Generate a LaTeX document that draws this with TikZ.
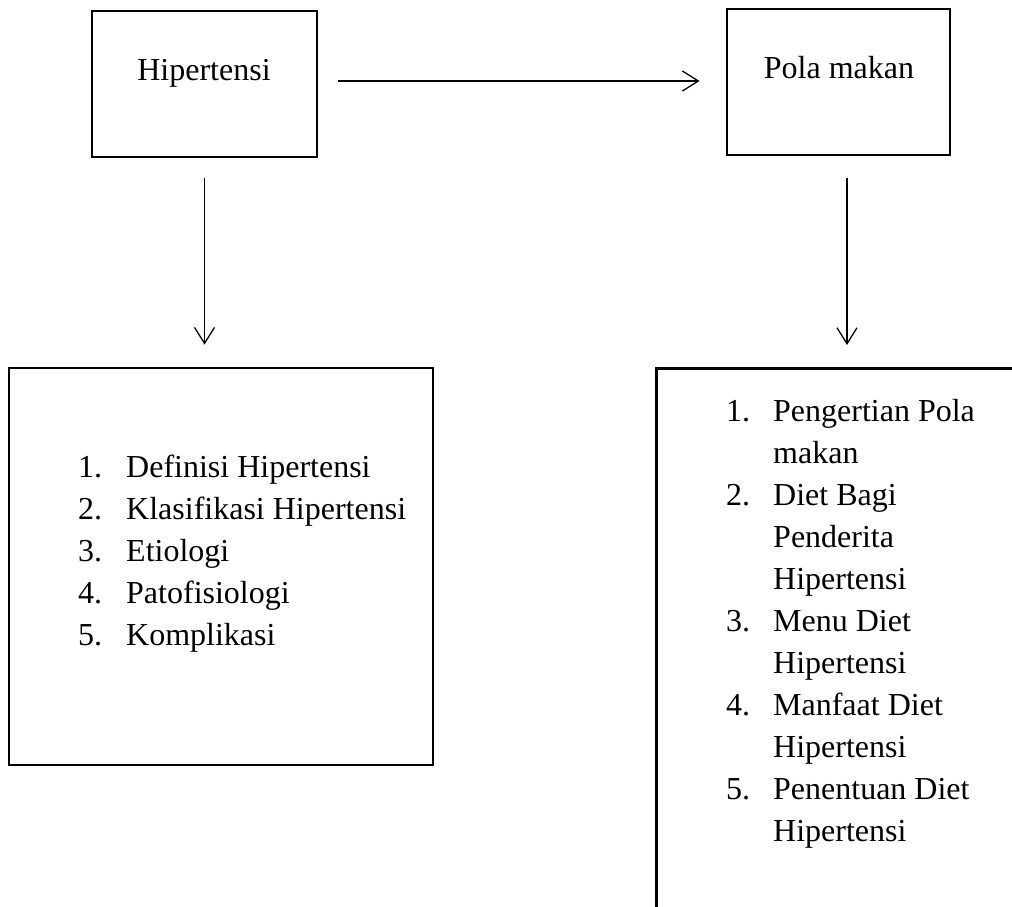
\documentclass[tikz,border=0pt]{standalone}
\usepackage{fontspec}
\setmainfont{Liberation Serif}
\usetikzlibrary{arrows.meta}
\begin{document}
\begin{tikzpicture}[x=1pt,y=-1pt,
  box/.style={draw, line width=2.8pt, inner sep=0pt, rectangle},
  lbl/.style={font=\fontsize{32}{42}\selectfont, inner sep=0pt, anchor=base},
  lst/.style={font=\fontsize{32}{42}\selectfont, inner sep=0pt, anchor=base west},
  arr/.style={line width=1.3pt, -{Straight Barb[length=16pt,width=20pt,line width=1.3pt]}}]
\clip[use as bounding box] (0,0) rectangle (1012,906);
\fill[white] (0,0) rectangle (1012,906);
% top boxes
\node[box, minimum width=225pt, minimum height=146pt] (hip) at (204.5,84) {};
\node[lbl] (hipt) at (204,80) {Hipertensi};
\node[box, minimum width=223pt, minimum height=146pt] (pola) at (838.5,82) {};
\node[lbl] (polat) at (839,78) {Pola makan};
% bottom boxes
\node[box, minimum width=424pt, minimum height=397pt] (def) at (221,566.5) {};
\node[box, anchor=north west, minimum width=500pt, minimum height=600pt] (diet) at (655,367) {};
% lists
\node[lst] (deflist) at (78,477) {\begin{tabular}[t]{@{}l@{\hspace{24pt}}l@{}}
1.&Definisi Hipertensi\\
2.&Klasifikasi Hipertensi\\
3.&Etiologi\\
4.&Patofisiologi\\
5.&Komplikasi
\end{tabular}};
\node[lst] (dietlist) at (726,421) {\begin{tabular}[t]{@{}l@{\hspace{23pt}}l@{}}
1.&Pengertian Pola\\
&makan\\
2.&Diet Bagi\\
&Penderita\\
&Hipertensi\\
3.&Menu Diet\\
&Hipertensi\\
4.&Manfaat Diet\\
&Hipertensi\\
5.&Penentuan Diet\\
&Hipertensi
\end{tabular}};
% connectors
\draw[arr] ([xshift=20pt,yshift=3pt]hip.east) -- ([xshift=-26pt,yshift=1pt]pola.west);
\draw[arr, shorten <=20pt, shorten >=22pt] (hip.south) -- (hip.south |- def.north);
\draw[arr, shorten <=22pt, shorten >=22pt] ([xshift=8.5pt]pola.south) -- ([xshift=8.5pt]pola.south |- diet.north);
\end{tikzpicture}
\end{document}
